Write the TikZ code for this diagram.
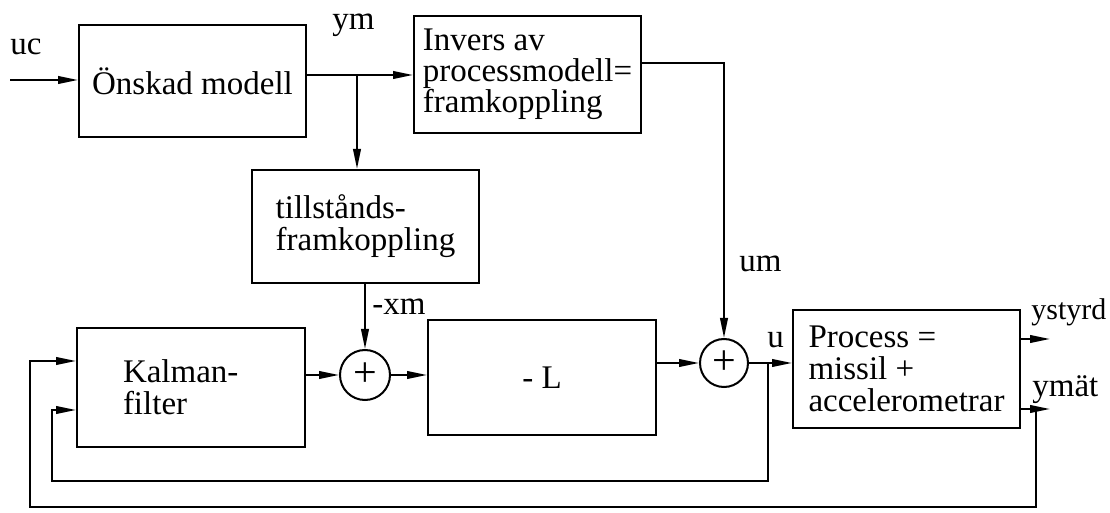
\documentclass[tikz,border=0pt]{standalone}
\usepackage{fontspec}
\setmainfont{Liberation Serif}
\usetikzlibrary{arrows.meta,calc}
\begin{document}
\begin{tikzpicture}[x=0.5pt,y=-0.5pt,
  every node/.style={font=\fontsize{16.5}{16}\selectfont},
  blk/.style={draw,line width=1pt,minimum width=113.5pt,align=left,inner sep=0pt},
  sumc/.style={draw,circle,line width=1pt,minimum size=25pt,inner sep=0pt,font=\fontsize{21}{21}\selectfont},
  lbl/.style={anchor=base west,inner sep=0pt},
  con/.style={line width=1pt},
  arr/.style={con,-{Triangle[length=10pt,width=3.8pt]}}]
\useasboundingbox (0,0) rectangle (1110,513);
% blocks
\node[blk,minimum height=58.5pt,font=\fontsize{16.5}{15.5}\selectfont] (invers) at (527.5,74.5) {Invers av\\processmodell=\\framkoppling};
\node[blk,minimum height=56pt] (onskad) at (192.5,81) {Önskad modell};
\node[blk,minimum height=56.5pt] (tillst) at (365.5,226.5) {tillstånds-\\framkoppling};
\node[blk,minimum width=114pt,minimum height=59.5pt,text width=68pt] (kalman) at (191,387.5) {Kalman-\\filter};
\node[sumc] (sum1) at (365,375) {+};
\node[blk,minimum width=114pt,minimum height=57.5pt,align=center] (negL) at (542,377.5) {- L};
\node[sumc,minimum size=24pt] (sum2) at (724,363) {+};
\node[blk,minimum height=59pt] (process) at (906.5,369) {Process =\\missil +\\accelerometrar};
% coordinates
\coordinate (ucin) at (10,80);
\coordinate (ym) at (357,75);
\coordinate (c1) at (724,63);
\coordinate (ub) at (768,363);
\coordinate (fb1) at (768,481);
\coordinate (fb1l) at (52,481);
\coordinate (ys) at (1050,339);
\coordinate (ymt) at (1050,409);
\coordinate (ymtb) at (1036,409);
\coordinate (fb2) at (1036,507);
\coordinate (fb2l) at (30,507);
% connectors
\draw[arr] (ucin) -- (ucin -| onskad.west);
\draw[arr] (ym -| onskad.east) -- (ym -| invers.west);
\draw[arr] (ym) -- (ym |- tillst.north);
\draw[arr] (c1 -| invers.east) -- (c1) -- (sum2.north);
\draw[arr] (tillst.south -| sum1) -- (sum1.north);
\draw[arr] (sum1.west -| kalman.east) -- (sum1.west);
\draw[arr] (sum1.east) -- (sum1.east -| negL.west);
\draw[arr] (sum2.west -| negL.east) -- (sum2.west);
\draw[arr] (sum2.east) -- (sum2.east -| process.west);
\draw[arr] (ub) -- (fb1) -- (fb1l) -- (fb1l |- 0,410) -- (kalman.west |- 0,410);
\draw[arr] (ys -| process.east) -- (ys);
\draw[arr] (ymt -| process.east) -- (ymt);
\draw[arr] (ymtb) -- (fb2) -- (fb2l) -- (fb2l |- 0,361) -- (kalman.west |- 0,361);
% labels
\node[lbl] (luc) at (10,55) {uc};
\node[lbl] (lym) at (332,30) {ym};
\node[lbl] (lxm) at (372,315) {-xm};
\node[lbl] (lum) at (739,272) {um};
\node[lbl] (lu) at (767,348) {u};
\node[lbl,font=\fontsize{15}{15}\selectfont] (lys) at (1031,320) {ystyrd};
\node[lbl] (lymt) at (1032,397) {ymät};
\end{tikzpicture}
\end{document}
